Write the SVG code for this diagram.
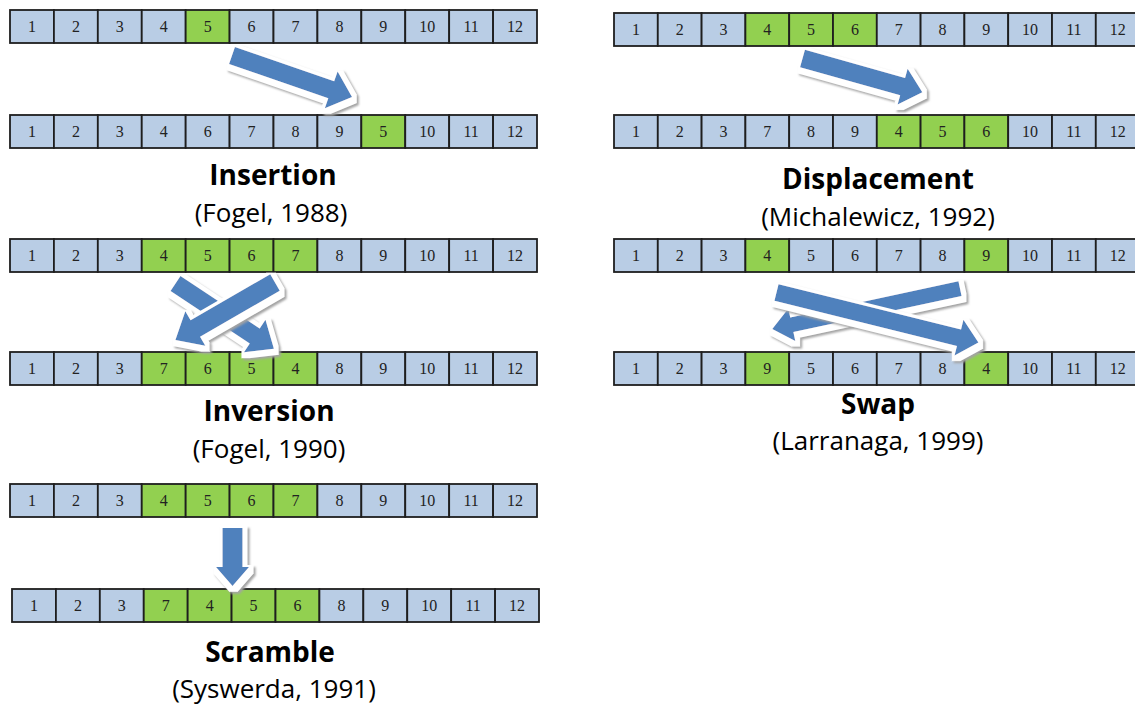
<svg xmlns="http://www.w3.org/2000/svg" xmlns:xlink="http://www.w3.org/1999/xlink" width="1135" height="707" viewBox="0 0 1135 707">
<defs>
<style>
.b{fill:#b9cde5;stroke:#1e1e1e;stroke-width:1.8}
.g{fill:#92d050;stroke:#1e1e1e;stroke-width:1.8}
.n{font-family:"Liberation Serif","Times New Roman",serif;font-size:16px;fill:#222;text-anchor:middle}
.t{font-family:"Open Sans","Noto Sans",sans-serif;font-weight:bold;font-size:28px;fill:#000;text-anchor:middle}
.s{font-family:"Open Sans","Noto Sans",sans-serif;font-size:26px;fill:#000;text-anchor:middle}
.ar{fill:#4f81bd}
</style>
<filter id="bevel" x="-30%" y="-30%" width="160%" height="160%">
<feMorphology in="SourceAlpha" operator="dilate" radius="4" result="d"/>
<feOffset in="d" dx="3" dy="4" result="so"/>
<feGaussianBlur in="so" stdDeviation="1.3" result="sb"/>
<feFlood flood-color="#a3a3a3" result="gc"/>
<feComposite in="gc" in2="sb" operator="in" result="shadow"/>
<feOffset in="d" dx="1" dy="1.5" result="wo"/>
<feFlood flood-color="#ffffff" result="wc"/>
<feComposite in="wc" in2="wo" operator="in" result="white"/>
<feMerge><feMergeNode in="shadow"/><feMergeNode in="white"/><feMergeNode in="SourceGraphic"/></feMerge>
</filter>
</defs>
<rect width="1135" height="707" fill="#fff"/>

<!-- Insertion -->
<g id="insertion-before" transform="translate(10,10)">
<rect class="b" x="0" y="0" width="43.92" height="33"/><rect class="b" x="43.92" y="0" width="43.92" height="33"/><rect class="b" x="87.83" y="0" width="43.92" height="33"/><rect class="b" x="131.75" y="0" width="43.92" height="33"/><rect class="g" x="175.67" y="0" width="43.92" height="33"/><rect class="b" x="219.58" y="0" width="43.92" height="33"/><rect class="b" x="263.5" y="0" width="43.92" height="33"/><rect class="b" x="307.42" y="0" width="43.92" height="33"/><rect class="b" x="351.33" y="0" width="43.92" height="33"/><rect class="b" x="395.25" y="0" width="43.92" height="33"/><rect class="b" x="439.17" y="0" width="43.92" height="33"/><rect class="b" x="483.08" y="0" width="43.92" height="33"/>
<text class="n" x="21.96" y="22">1</text><text class="n" x="65.88" y="22">2</text><text class="n" x="109.79" y="22">3</text><text class="n" x="153.71" y="22">4</text><text class="n" x="197.63" y="22">5</text><text class="n" x="241.54" y="22">6</text><text class="n" x="285.46" y="22">7</text><text class="n" x="329.38" y="22">8</text><text class="n" x="373.29" y="22">9</text><text class="n" x="417.21" y="22">10</text><text class="n" x="461.13" y="22">11</text><text class="n" x="505.04" y="22">12</text>
</g>
<g id="insertion-after" transform="translate(10,115)">
<rect class="b" x="0" y="0" width="43.92" height="33"/><rect class="b" x="43.92" y="0" width="43.92" height="33"/><rect class="b" x="87.83" y="0" width="43.92" height="33"/><rect class="b" x="131.75" y="0" width="43.92" height="33"/><rect class="b" x="175.67" y="0" width="43.92" height="33"/><rect class="b" x="219.58" y="0" width="43.92" height="33"/><rect class="b" x="263.5" y="0" width="43.92" height="33"/><rect class="b" x="307.42" y="0" width="43.92" height="33"/><rect class="g" x="351.33" y="0" width="43.92" height="33"/><rect class="b" x="395.25" y="0" width="43.92" height="33"/><rect class="b" x="439.17" y="0" width="43.92" height="33"/><rect class="b" x="483.08" y="0" width="43.92" height="33"/>
<text class="n" x="21.96" y="22">1</text><text class="n" x="65.88" y="22">2</text><text class="n" x="109.79" y="22">3</text><text class="n" x="153.71" y="22">4</text><text class="n" x="197.63" y="22">6</text><text class="n" x="241.54" y="22">7</text><text class="n" x="285.46" y="22">8</text><text class="n" x="329.38" y="22">9</text><text class="n" x="373.29" y="22">5</text><text class="n" x="417.21" y="22">10</text><text class="n" x="461.13" y="22">11</text><text class="n" x="505.04" y="22">12</text>
</g>
<g id="insertion-label">
<text class="t" x="273" y="185">Insertion</text>
<text class="s" x="271" y="222">(Fogel, 1988)</text>
</g>

<!-- Inversion -->
<g id="inversion-before" transform="translate(10,239)">
<rect class="b" x="0" y="0" width="43.92" height="33"/><rect class="b" x="43.92" y="0" width="43.92" height="33"/><rect class="b" x="87.83" y="0" width="43.92" height="33"/><rect class="g" x="131.75" y="0" width="43.92" height="33"/><rect class="g" x="175.67" y="0" width="43.92" height="33"/><rect class="g" x="219.58" y="0" width="43.92" height="33"/><rect class="g" x="263.5" y="0" width="43.92" height="33"/><rect class="b" x="307.42" y="0" width="43.92" height="33"/><rect class="b" x="351.33" y="0" width="43.92" height="33"/><rect class="b" x="395.25" y="0" width="43.92" height="33"/><rect class="b" x="439.17" y="0" width="43.92" height="33"/><rect class="b" x="483.08" y="0" width="43.92" height="33"/>
<text class="n" x="21.96" y="22">1</text><text class="n" x="65.88" y="22">2</text><text class="n" x="109.79" y="22">3</text><text class="n" x="153.71" y="22">4</text><text class="n" x="197.63" y="22">5</text><text class="n" x="241.54" y="22">6</text><text class="n" x="285.46" y="22">7</text><text class="n" x="329.38" y="22">8</text><text class="n" x="373.29" y="22">9</text><text class="n" x="417.21" y="22">10</text><text class="n" x="461.13" y="22">11</text><text class="n" x="505.04" y="22">12</text>
</g>
<g id="inversion-after" transform="translate(10,352)">
<rect class="b" x="0" y="0" width="43.92" height="33"/><rect class="b" x="43.92" y="0" width="43.92" height="33"/><rect class="b" x="87.83" y="0" width="43.92" height="33"/><rect class="g" x="131.75" y="0" width="43.92" height="33"/><rect class="g" x="175.67" y="0" width="43.92" height="33"/><rect class="g" x="219.58" y="0" width="43.92" height="33"/><rect class="g" x="263.5" y="0" width="43.92" height="33"/><rect class="b" x="307.42" y="0" width="43.92" height="33"/><rect class="b" x="351.33" y="0" width="43.92" height="33"/><rect class="b" x="395.25" y="0" width="43.92" height="33"/><rect class="b" x="439.17" y="0" width="43.92" height="33"/><rect class="b" x="483.08" y="0" width="43.92" height="33"/>
<text class="n" x="21.96" y="22">1</text><text class="n" x="65.88" y="22">2</text><text class="n" x="109.79" y="22">3</text><text class="n" x="153.71" y="22">7</text><text class="n" x="197.63" y="22">6</text><text class="n" x="241.54" y="22">5</text><text class="n" x="285.46" y="22">4</text><text class="n" x="329.38" y="22">8</text><text class="n" x="373.29" y="22">9</text><text class="n" x="417.21" y="22">10</text><text class="n" x="461.13" y="22">11</text><text class="n" x="505.04" y="22">12</text>
</g>
<g id="inversion-label">
<text class="t" x="269" y="421">Inversion</text>
<text class="s" x="269" y="458">(Fogel, 1990)</text>
</g>

<!-- Scramble -->
<g id="scramble-before" transform="translate(10,484)">
<rect class="b" x="0" y="0" width="43.92" height="33"/><rect class="b" x="43.92" y="0" width="43.92" height="33"/><rect class="b" x="87.83" y="0" width="43.92" height="33"/><rect class="g" x="131.75" y="0" width="43.92" height="33"/><rect class="g" x="175.67" y="0" width="43.92" height="33"/><rect class="g" x="219.58" y="0" width="43.92" height="33"/><rect class="g" x="263.5" y="0" width="43.92" height="33"/><rect class="b" x="307.42" y="0" width="43.92" height="33"/><rect class="b" x="351.33" y="0" width="43.92" height="33"/><rect class="b" x="395.25" y="0" width="43.92" height="33"/><rect class="b" x="439.17" y="0" width="43.92" height="33"/><rect class="b" x="483.08" y="0" width="43.92" height="33"/>
<text class="n" x="21.96" y="22">1</text><text class="n" x="65.88" y="22">2</text><text class="n" x="109.79" y="22">3</text><text class="n" x="153.71" y="22">4</text><text class="n" x="197.63" y="22">5</text><text class="n" x="241.54" y="22">6</text><text class="n" x="285.46" y="22">7</text><text class="n" x="329.38" y="22">8</text><text class="n" x="373.29" y="22">9</text><text class="n" x="417.21" y="22">10</text><text class="n" x="461.13" y="22">11</text><text class="n" x="505.04" y="22">12</text>
</g>
<g id="scramble-after" transform="translate(12,589)">
<rect class="b" x="0" y="0" width="43.92" height="33"/><rect class="b" x="43.92" y="0" width="43.92" height="33"/><rect class="b" x="87.83" y="0" width="43.92" height="33"/><rect class="g" x="131.75" y="0" width="43.92" height="33"/><rect class="g" x="175.67" y="0" width="43.92" height="33"/><rect class="g" x="219.58" y="0" width="43.92" height="33"/><rect class="g" x="263.5" y="0" width="43.92" height="33"/><rect class="b" x="307.42" y="0" width="43.92" height="33"/><rect class="b" x="351.33" y="0" width="43.92" height="33"/><rect class="b" x="395.25" y="0" width="43.92" height="33"/><rect class="b" x="439.17" y="0" width="43.92" height="33"/><rect class="b" x="483.08" y="0" width="43.92" height="33"/>
<text class="n" x="21.96" y="22">1</text><text class="n" x="65.88" y="22">2</text><text class="n" x="109.79" y="22">3</text><text class="n" x="153.71" y="22">7</text><text class="n" x="197.63" y="22">4</text><text class="n" x="241.54" y="22">5</text><text class="n" x="285.46" y="22">6</text><text class="n" x="329.38" y="22">8</text><text class="n" x="373.29" y="22">9</text><text class="n" x="417.21" y="22">10</text><text class="n" x="461.13" y="22">11</text><text class="n" x="505.04" y="22">12</text>
</g>
<g id="scramble-label">
<text class="t" x="270" y="662">Scramble</text>
<text class="s" x="274" y="698">(Syswerda, 1991)</text>
</g>

<!-- Displacement -->
<g id="displacement-before" transform="translate(614,13)">
<rect class="b" x="0" y="0" width="43.8" height="33"/><rect class="b" x="43.8" y="0" width="43.8" height="33"/><rect class="b" x="87.6" y="0" width="43.8" height="33"/><rect class="g" x="131.4" y="0" width="43.8" height="33"/><rect class="g" x="175.2" y="0" width="43.8" height="33"/><rect class="g" x="219" y="0" width="43.8" height="33"/><rect class="b" x="262.8" y="0" width="43.8" height="33"/><rect class="b" x="306.6" y="0" width="43.8" height="33"/><rect class="b" x="350.4" y="0" width="43.8" height="33"/><rect class="b" x="394.2" y="0" width="43.8" height="33"/><rect class="b" x="438" y="0" width="43.8" height="33"/><rect class="b" x="481.8" y="0" width="43.8" height="33"/>
<text class="n" x="21.9" y="22">1</text><text class="n" x="65.7" y="22">2</text><text class="n" x="109.5" y="22">3</text><text class="n" x="153.3" y="22">4</text><text class="n" x="197.1" y="22">5</text><text class="n" x="240.9" y="22">6</text><text class="n" x="284.7" y="22">7</text><text class="n" x="328.5" y="22">8</text><text class="n" x="372.3" y="22">9</text><text class="n" x="416.1" y="22">10</text><text class="n" x="459.9" y="22">11</text><text class="n" x="503.7" y="22">12</text>
</g>
<g id="displacement-after" transform="translate(614,115)">
<rect class="b" x="0" y="0" width="43.8" height="33"/><rect class="b" x="43.8" y="0" width="43.8" height="33"/><rect class="b" x="87.6" y="0" width="43.8" height="33"/><rect class="b" x="131.4" y="0" width="43.8" height="33"/><rect class="b" x="175.2" y="0" width="43.8" height="33"/><rect class="b" x="219" y="0" width="43.8" height="33"/><rect class="g" x="262.8" y="0" width="43.8" height="33"/><rect class="g" x="306.6" y="0" width="43.8" height="33"/><rect class="g" x="350.4" y="0" width="43.8" height="33"/><rect class="b" x="394.2" y="0" width="43.8" height="33"/><rect class="b" x="438" y="0" width="43.8" height="33"/><rect class="b" x="481.8" y="0" width="43.8" height="33"/>
<text class="n" x="21.9" y="22">1</text><text class="n" x="65.7" y="22">2</text><text class="n" x="109.5" y="22">3</text><text class="n" x="153.3" y="22">7</text><text class="n" x="197.1" y="22">8</text><text class="n" x="240.9" y="22">9</text><text class="n" x="284.7" y="22">4</text><text class="n" x="328.5" y="22">5</text><text class="n" x="372.3" y="22">6</text><text class="n" x="416.1" y="22">10</text><text class="n" x="459.9" y="22">11</text><text class="n" x="503.7" y="22">12</text>
</g>
<g id="displacement-label">
<text class="t" x="878" y="189">Displacement</text>
<text class="s" x="878" y="226">(Michalewicz, 1992)</text>
</g>

<!-- Swap -->
<g id="swap-before" transform="translate(614,239)">
<rect class="b" x="0" y="0" width="43.8" height="33"/><rect class="b" x="43.8" y="0" width="43.8" height="33"/><rect class="b" x="87.6" y="0" width="43.8" height="33"/><rect class="g" x="131.4" y="0" width="43.8" height="33"/><rect class="b" x="175.2" y="0" width="43.8" height="33"/><rect class="b" x="219" y="0" width="43.8" height="33"/><rect class="b" x="262.8" y="0" width="43.8" height="33"/><rect class="b" x="306.6" y="0" width="43.8" height="33"/><rect class="g" x="350.4" y="0" width="43.8" height="33"/><rect class="b" x="394.2" y="0" width="43.8" height="33"/><rect class="b" x="438" y="0" width="43.8" height="33"/><rect class="b" x="481.8" y="0" width="43.8" height="33"/>
<text class="n" x="21.9" y="22">1</text><text class="n" x="65.7" y="22">2</text><text class="n" x="109.5" y="22">3</text><text class="n" x="153.3" y="22">4</text><text class="n" x="197.1" y="22">5</text><text class="n" x="240.9" y="22">6</text><text class="n" x="284.7" y="22">7</text><text class="n" x="328.5" y="22">8</text><text class="n" x="372.3" y="22">9</text><text class="n" x="416.1" y="22">10</text><text class="n" x="459.9" y="22">11</text><text class="n" x="503.7" y="22">12</text>
</g>
<g id="swap-after" transform="translate(614,352)">
<rect class="b" x="0" y="0" width="43.8" height="33"/><rect class="b" x="43.8" y="0" width="43.8" height="33"/><rect class="b" x="87.6" y="0" width="43.8" height="33"/><rect class="g" x="131.4" y="0" width="43.8" height="33"/><rect class="b" x="175.2" y="0" width="43.8" height="33"/><rect class="b" x="219" y="0" width="43.8" height="33"/><rect class="b" x="262.8" y="0" width="43.8" height="33"/><rect class="b" x="306.6" y="0" width="43.8" height="33"/><rect class="g" x="350.4" y="0" width="43.8" height="33"/><rect class="b" x="394.2" y="0" width="43.8" height="33"/><rect class="b" x="438" y="0" width="43.8" height="33"/><rect class="b" x="481.8" y="0" width="43.8" height="33"/>
<text class="n" x="21.9" y="22">1</text><text class="n" x="65.7" y="22">2</text><text class="n" x="109.5" y="22">3</text><text class="n" x="153.3" y="22">9</text><text class="n" x="197.1" y="22">5</text><text class="n" x="240.9" y="22">6</text><text class="n" x="284.7" y="22">7</text><text class="n" x="328.5" y="22">8</text><text class="n" x="372.3" y="22">4</text><text class="n" x="416.1" y="22">10</text><text class="n" x="459.9" y="22">11</text><text class="n" x="503.7" y="22">12</text>
</g>
<g id="swap-label">
<text class="t" x="878" y="414">Swap</text>
<text class="s" x="878" y="450">(Larranaga, 1999)</text>
</g>

<!-- Connectors (block arrows) -->
<g id="connectors">
<g id="arrow-insertion" filter="url(#bevel)"><polygon class="ar" transform="translate(232,55.5) rotate(19.1)" points="0,-9 105,-9 105,-19.5 127,0 105,19.5 105,9 0,9"/></g>
<g id="arrow-displacement" filter="url(#bevel)"><polygon class="ar" transform="translate(802.5,58.5) rotate(15.7)" points="0,-9 104,-9 104,-18.5 124.5,0 104,18.5 104,9 0,9"/></g>
<g id="arrow-inversion-a" filter="url(#bevel)"><polygon class="ar" transform="translate(175.5,283.5) rotate(33.5)" points="0,-9 95,-9 95,-19.5 118,0 95,19.5 95,9 0,9"/></g>
<g id="arrow-inversion-b" filter="url(#bevel)"><polygon class="ar" transform="translate(275,282.5) rotate(150)" points="0,-9.5 92,-9.5 92,-20 115,0 92,20 92,9.5 0,9.5"/></g>
<g id="arrow-swap-b" filter="url(#bevel)"><polygon class="ar" transform="translate(960,288.7) rotate(167.9)" points="0,-7.5 172,-7.5 172,-16.5 192,0 172,16.5 172,7.5 0,7.5"/></g>
<g id="arrow-swap-a" filter="url(#bevel)"><polygon class="ar" transform="translate(776.5,292.5) rotate(13.9)" points="0,-8.5 188,-8.5 188,-18.5 208,0 188,18.5 188,8.5 0,8.5"/></g>
<g id="arrow-scramble" filter="url(#bevel)"><polygon class="ar" transform="translate(232.5,528) rotate(90)" points="0,-10 39,-10 39,-16.5 58,0 39,16.5 39,10 0,10"/></g>
</g>
</svg>
